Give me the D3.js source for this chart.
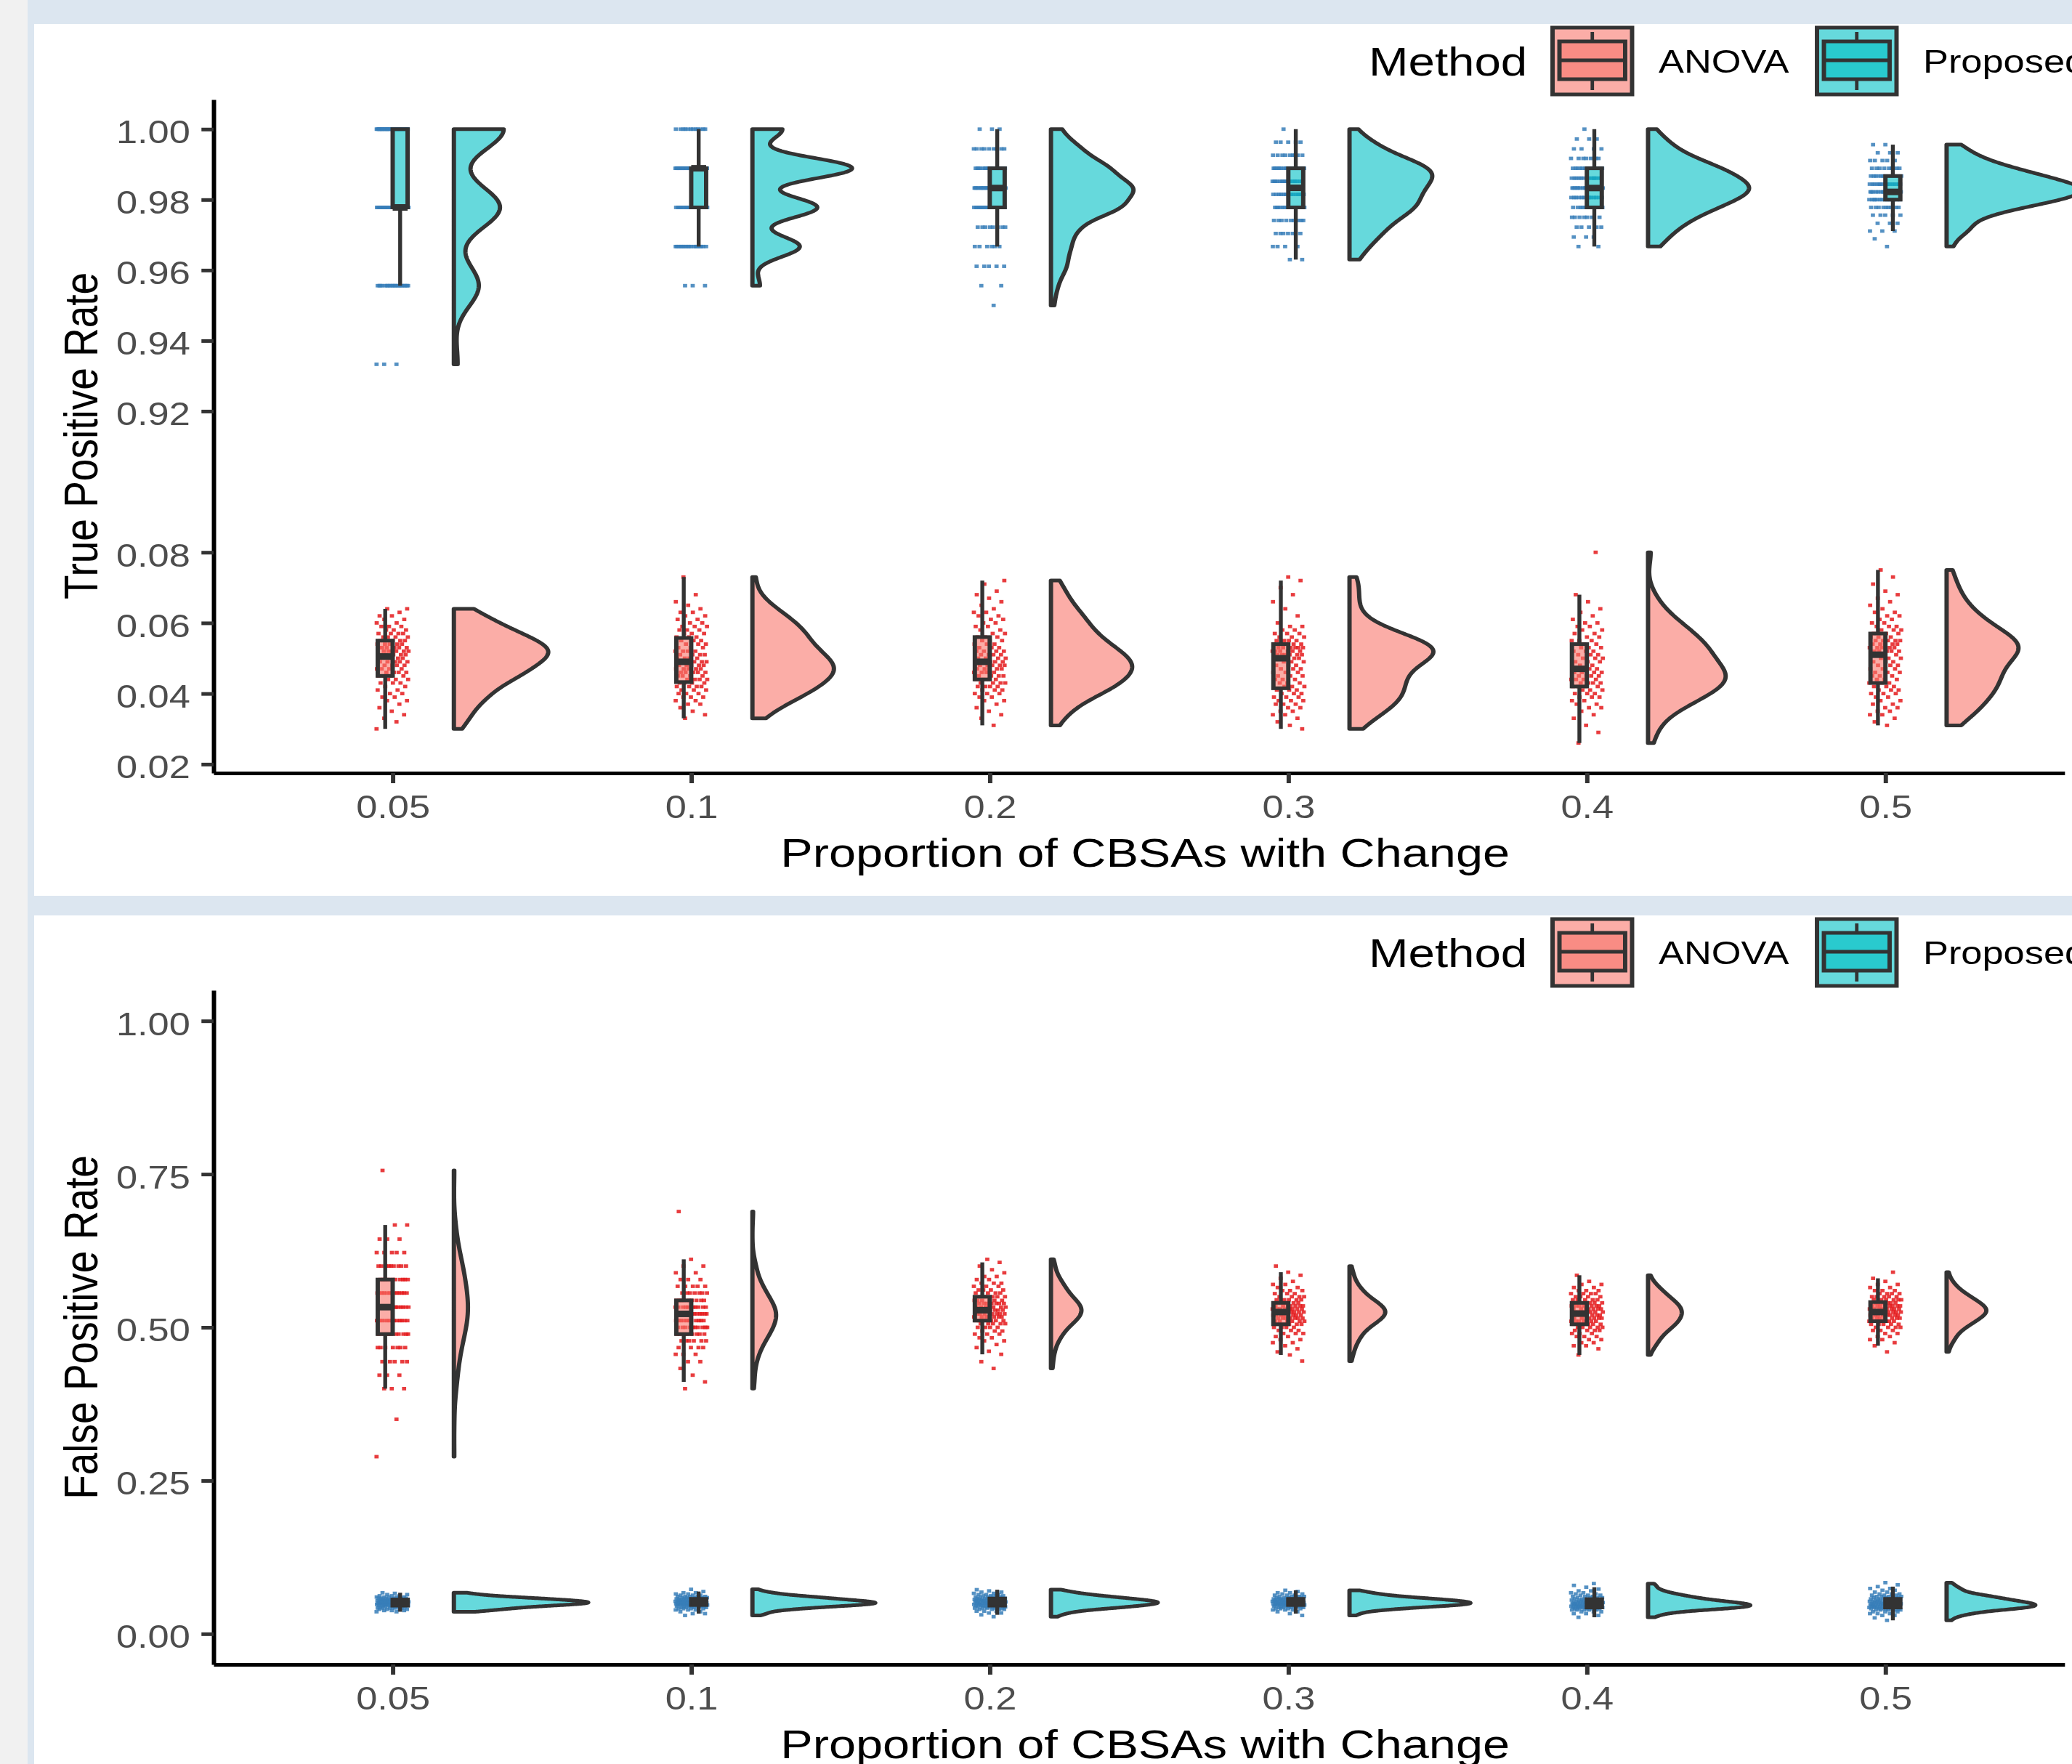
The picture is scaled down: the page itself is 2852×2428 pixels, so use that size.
<!DOCTYPE html>
<html>
<head>
<meta charset="utf-8">
<script src="https://cdn.jsdelivr.net/npm/d3@7"></script>
<style>
  body { margin: 0; background: #fff; }
  svg text { font-family: "Liberation Sans", Arial, sans-serif; }
</style>
</head>
<body>
<svg id="chart"></svg>
<script>
// the screenshot is stretched sideways, so everything is drawn in a narrower
// logical frame and the viewBox widens it again
const W = 2852, H = 2428, SX = 1.19;
const LW = W / SX;

const proportions = ["0.05", "0.1", "0.2", "0.3", "0.4", "0.5"];
const methods = ["ANOVA", "Proposed"];
const tprTicks = [0.02, 0.04, 0.06, 0.08, 0.92, 0.94, 0.96, 0.98, 1.00];
const fprTicks = [0, 0.25, 0.5, 0.75, 1];

// [rate, number of runs] for each proportion
const tprAnova = [
  [[0.030,1],[0.032,1],[0.033,1],[0.034,1],[0.035,1],[0.036,1],[0.037,1],[0.038,2],[0.039,2],[0.040,2],[0.041,2],[0.042,2],[0.043,3],[0.044,3],[0.045,4],[0.046,4],[0.047,4],[0.048,4],[0.049,5],[0.050,5],[0.051,5],[0.052,6],[0.053,6],[0.054,5],[0.055,4],[0.056,4],[0.057,4],[0.058,3],[0.059,3],[0.060,2],[0.061,2],[0.062,2],[0.063,1],[0.064,2]],
  [[0.033,1],[0.034,1],[0.035,1],[0.036,1],[0.037,2],[0.038,2],[0.039,3],[0.040,3],[0.041,3],[0.042,4],[0.043,4],[0.044,4],[0.045,4],[0.046,5],[0.047,5],[0.048,5],[0.049,4],[0.050,4],[0.051,4],[0.052,4],[0.053,3],[0.054,3],[0.055,3],[0.056,3],[0.057,3],[0.058,3],[0.059,3],[0.060,2],[0.061,2],[0.062,2],[0.063,2],[0.064,1],[0.065,1],[0.066,1],[0.068,1],[0.073,1]],
  [[0.031,1],[0.033,1],[0.034,1],[0.035,1],[0.036,1],[0.037,1],[0.038,2],[0.039,2],[0.040,3],[0.041,3],[0.042,4],[0.043,4],[0.044,4],[0.045,4],[0.046,4],[0.047,5],[0.048,5],[0.049,5],[0.050,4],[0.051,4],[0.052,4],[0.053,3],[0.054,3],[0.055,3],[0.056,3],[0.057,2],[0.058,2],[0.059,2],[0.060,2],[0.061,2],[0.062,2],[0.063,2],[0.064,1],[0.065,1],[0.066,1],[0.067,1],[0.068,1],[0.069,1],[0.071,1],[0.072,1]],
  [[0.030,1],[0.031,1],[0.032,1],[0.033,1],[0.034,2],[0.035,2],[0.036,2],[0.037,3],[0.038,3],[0.039,3],[0.040,3],[0.041,3],[0.042,3],[0.043,3],[0.044,3],[0.045,3],[0.046,3],[0.047,3],[0.048,3],[0.049,3],[0.050,5],[0.051,6],[0.052,6],[0.053,6],[0.054,5],[0.055,4],[0.056,3],[0.057,3],[0.058,2],[0.059,2],[0.060,1],[0.062,1],[0.064,1],[0.066,1],[0.068,1],[0.070,1],[0.072,1],[0.073,1]],
  [[0.026,1],[0.029,1],[0.031,1],[0.033,1],[0.034,1],[0.035,1],[0.036,2],[0.037,2],[0.038,2],[0.039,3],[0.040,3],[0.041,3],[0.042,4],[0.043,4],[0.044,4],[0.045,4],[0.046,4],[0.047,4],[0.048,3],[0.049,3],[0.050,3],[0.051,3],[0.052,3],[0.053,3],[0.054,3],[0.055,3],[0.056,2],[0.057,2],[0.058,2],[0.059,2],[0.060,2],[0.061,1],[0.062,1],[0.063,1],[0.064,1],[0.066,1],[0.068,1],[0.080,1]],
  [[0.031,1],[0.032,1],[0.033,1],[0.034,2],[0.035,2],[0.036,2],[0.037,2],[0.038,2],[0.039,2],[0.040,3],[0.041,3],[0.042,3],[0.043,3],[0.044,3],[0.045,3],[0.046,3],[0.047,3],[0.048,3],[0.049,3],[0.050,3],[0.051,4],[0.052,5],[0.053,5],[0.054,5],[0.055,5],[0.056,3],[0.057,3],[0.058,3],[0.059,3],[0.060,2],[0.061,2],[0.062,2],[0.063,2],[0.064,1],[0.065,1],[0.066,1],[0.067,1],[0.068,1],[0.069,1],[0.071,1],[0.073,1],[0.075,1]]
];
const tprProposed = [
  [[0.9333,3],[0.9556,20],[0.9778,37],[1.0,40]],
  [[0.9556,3],[0.9667,19],[0.9778,26],[0.9889,40],[1.0,12]],
  [[0.9500,1],[0.9556,2],[0.9611,5],[0.9667,6],[0.9722,8],[0.9778,22],[0.9833,26],[0.9889,18],[0.9944,9],[1.0,3]],
  [[0.9630,2],[0.9667,4],[0.9704,7],[0.9741,9],[0.9778,15],[0.9815,14],[0.9852,17],[0.9889,19],[0.9926,9],[0.9963,5],[1.0,1]],
  [[0.9667,2],[0.9694,3],[0.9722,5],[0.9750,7],[0.9778,11],[0.9806,14],[0.9833,17],[0.9861,14],[0.9889,12],[0.9917,7],[0.9944,4],[0.9972,3],[1.0,1]],
  [[0.9667,1],[0.9689,1],[0.9711,3],[0.9733,3],[0.9756,5],[0.9778,9],[0.9800,14],[0.9822,17],[0.9844,16],[0.9867,12],[0.9889,8],[0.9911,5],[0.9933,3],[0.9956,2]]
];
const fprAnova = [
  [[0.289,1],[0.350,1],[0.400,3],[0.422,3],[0.444,5],[0.467,7],[0.489,10],[0.511,13],[0.533,14],[0.556,13],[0.578,10],[0.600,9],[0.622,5],[0.644,3],[0.667,2],[0.756,1]],
  [[0.400,1],[0.411,1],[0.422,1],[0.433,1],[0.444,2],[0.456,3],[0.467,4],[0.478,6],[0.489,8],[0.500,10],[0.511,11],[0.522,12],[0.533,11],[0.544,9],[0.556,7],[0.567,5],[0.578,3],[0.589,2],[0.600,2],[0.611,1],[0.689,1]],
  [[0.433,1],[0.444,1],[0.456,1],[0.461,1],[0.467,1],[0.472,1],[0.478,2],[0.483,2],[0.489,3],[0.494,3],[0.500,4],[0.506,5],[0.511,6],[0.517,7],[0.522,7],[0.528,8],[0.533,7],[0.539,7],[0.544,6],[0.550,5],[0.556,4],[0.561,4],[0.567,3],[0.572,3],[0.578,2],[0.583,2],[0.589,1],[0.594,1],[0.600,1],[0.606,1],[0.611,1]],
  [[0.445,1],[0.455,1],[0.460,1],[0.465,1],[0.470,1],[0.475,2],[0.480,2],[0.485,2],[0.490,3],[0.495,3],[0.500,4],[0.505,5],[0.510,6],[0.515,7],[0.520,8],[0.525,8],[0.530,8],[0.535,7],[0.540,6],[0.545,5],[0.550,4],[0.555,3],[0.560,3],[0.565,2],[0.570,2],[0.575,1],[0.580,1],[0.585,1],[0.590,1],[0.600,1]],
  [[0.455,1],[0.465,1],[0.470,2],[0.475,2],[0.480,2],[0.485,3],[0.490,3],[0.495,4],[0.500,5],[0.505,6],[0.510,6],[0.515,7],[0.520,7],[0.525,7],[0.530,7],[0.535,7],[0.540,6],[0.545,5],[0.550,4],[0.555,4],[0.560,3],[0.565,2],[0.570,2],[0.575,1],[0.585,1]],
  [[0.460,1],[0.470,1],[0.475,1],[0.480,2],[0.485,2],[0.490,2],[0.495,3],[0.500,4],[0.505,5],[0.510,6],[0.515,7],[0.520,8],[0.525,9],[0.530,9],[0.535,8],[0.540,7],[0.545,6],[0.550,5],[0.555,4],[0.560,3],[0.565,2],[0.570,2],[0.575,1],[0.580,1],[0.590,1]]
];
const fprProposed = [
  [[0.036,2],[0.038,3],[0.040,4],[0.042,5],[0.044,6],[0.046,8],[0.048,10],[0.050,12],[0.052,12],[0.054,10],[0.056,9],[0.058,7],[0.060,5],[0.062,3],[0.064,2],[0.066,1],[0.067,1]],
  [[0.030,1],[0.033,2],[0.036,2],[0.039,3],[0.041,4],[0.043,5],[0.045,7],[0.047,9],[0.049,11],[0.051,11],[0.053,10],[0.055,8],[0.057,7],[0.059,6],[0.061,5],[0.063,3],[0.065,2],[0.067,2],[0.069,1],[0.0726,1]],
  [[0.028,1],[0.031,1],[0.034,2],[0.037,3],[0.040,4],[0.042,5],[0.044,6],[0.046,7],[0.048,8],[0.050,9],[0.052,9],[0.054,8],[0.056,7],[0.058,6],[0.060,5],[0.062,4],[0.064,3],[0.066,2],[0.068,2],[0.070,1],[0.072,1]],
  [[0.030,1],[0.033,1],[0.036,2],[0.039,3],[0.041,4],[0.043,5],[0.045,7],[0.047,9],[0.049,10],[0.051,10],[0.053,9],[0.055,8],[0.057,7],[0.059,5],[0.061,4],[0.063,3],[0.065,2],[0.067,2],[0.069,1],[0.071,1]],
  [[0.027,1],[0.030,1],[0.033,2],[0.036,3],[0.039,5],[0.041,6],[0.043,8],[0.045,9],[0.047,9],[0.049,8],[0.051,7],[0.053,6],[0.055,5],[0.057,4],[0.059,4],[0.061,3],[0.063,3],[0.065,2],[0.067,2],[0.070,2],[0.073,1],[0.076,1],[0.079,1],[0.082,1]],
  [[0.022,1],[0.026,1],[0.030,2],[0.033,3],[0.036,4],[0.039,5],[0.041,6],[0.043,7],[0.045,8],[0.047,8],[0.049,7],[0.051,7],[0.053,6],[0.055,5],[0.057,5],[0.059,4],[0.061,4],[0.063,3],[0.065,3],[0.068,2],[0.071,2],[0.074,2],[0.077,1],[0.080,1],[0.0835,1]]
];

const fills = { ANOVA: "#F8766D", Proposed: "#00BFC4" };
const dots = { ANOVA: "#E41A1C", Proposed: "#377EB8" };
const ink = "#333333";

const svg = d3.select("#chart")
  .attr("width", W).attr("height", H)
  .attr("viewBox", `0 0 ${LW} ${H}`)
  .attr("preserveAspectRatio", "none");

// page background around the two plot panels
svg.append("rect").attr("width", LW).attr("height", H).attr("fill", "#dce6f0");
svg.append("rect").attr("width", 38 / SX).attr("height", H).attr("fill", "#f1f1f1");
[[33, 1233], [1260, H]].forEach(([a, b]) => {
  svg.append("rect").attr("x", 47 / SX).attr("y", a)
    .attr("width", LW - 47 / SX).attr("height", b - a).attr("fill", "#fff");
});

const x = d3.scalePoint().domain(proportions).range([247, 2388]).padding(0.6);
const step = x.step();

const gauss = u => Math.exp(-0.5 * u * u) / Math.sqrt(2 * Math.PI);

// box stats + gaussian kernel density (bw.nrd0, trimmed to the data range)
function summarise(pairs) {
  const v = pairs.flatMap(([val, n]) => d3.range(n).map(() => val)).sort(d3.ascending);
  const q1 = d3.quantile(v, 0.25), med = d3.quantile(v, 0.5), q3 = d3.quantile(v, 0.75);
  const iqr = q3 - q1;
  const lo = d3.min(v.filter(d => d >= q1 - 1.5 * iqr));
  const hi = d3.max(v.filter(d => d <= q3 + 1.5 * iqr));
  const sd = d3.deviation(v);
  const spread = iqr > 0 ? Math.min(sd, iqr / 1.34) : sd;
  const bw = 0.9 * spread * Math.pow(v.length, -0.2);
  const min = v[0], max = v[v.length - 1];
  const dens = d3.range(257).map(i => {
    const yv = min + (max - min) * i / 256;
    return [yv, d3.sum(v, d => gauss((yv - d) / bw)) / (v.length * bw)];
  });
  return { v, q1, med, q3, lo, hi, dens };
}

function drawPanel(top, y, ticks, yTitle, data) {
  const g = svg.append("g").attr("transform", `translate(0,${top})`);
  const st = {};
  methods.forEach(m => st[m] = data[m].map(summarise));
  const maxD = d3.max(methods, m => d3.max(st[m], s => d3.max(s.dens, d => d[1])));
  const half = 0.45 * step;
  const nudge = 0.205 * step;

  // flat violins
  methods.forEach(m => {
    g.append("g").selectAll("path")
      .data(st[m])
      .join("path")
      .attr("d", (s, i) => {
        const x0 = x(proportions[i]) + nudge;
        return d3.area()
          .y(d => y(d[0]))
          .x0(x0)
          .x1(d => x0 + d[1] / maxD * half)(s.dens);
      })
      .attr("fill", fills[m])
      .attr("fill-opacity", 0.6)
      .attr("stroke", ink)
      .attr("stroke-width", 5)
      .attr("stroke-linejoin", "round");
  });

  // jittered runs
  const jit = 0.054 * step;
  methods.forEach(m => {
    st[m].forEach((s, i) => {
      const cx = x(proportions[i]);
      g.append("g").selectAll("rect")
        .data(s.v)
        .join("rect")
        .attr("x", (d, j) => cx + ((j * 0.618034 + i * 0.31) % 1 - 0.5) * 2 * jit - 2.4)
        .attr("y", d => y(d) - 2.4)
        .attr("width", 4.8)
        .attr("height", 4.8)
        .attr("fill", dots[m])
        .attr("opacity", 0.85);
    });
  });

  // dodged boxplots
  const bw = 0.05 * step;
  methods.forEach((m, k) => {
    const off = (k === 0 ? -1 : 1) * 0.025 * step;
    st[m].forEach((s, i) => {
      const cx = x(proportions[i]) + off;
      const b = g.append("g");
      b.append("line").attr("x1", cx).attr("x2", cx).attr("y1", y(s.hi)).attr("y2", y(s.q3))
        .attr("stroke", ink).attr("stroke-width", 4.5);
      b.append("line").attr("x1", cx).attr("x2", cx).attr("y1", y(s.q1)).attr("y2", y(s.lo))
        .attr("stroke", ink).attr("stroke-width", 4.5);
      b.append("rect")
        .attr("x", cx - bw / 2).attr("width", bw)
        .attr("y", y(s.q3)).attr("height", Math.max(0, y(s.q1) - y(s.q3)))
        .attr("fill", fills[m]).attr("fill-opacity", 0.6)
        .attr("stroke", ink).attr("stroke-width", 5);
      b.append("line").attr("x1", cx - bw / 2).attr("x2", cx + bw / 2)
        .attr("y1", y(s.med)).attr("y2", y(s.med))
        .attr("stroke", ink).attr("stroke-width", 9);
    });
  });

  // axes
  const yAxis = g.append("g").attr("transform", "translate(247,0)")
    .call(d3.axisLeft(y).tickValues(ticks).tickFormat(d3.format(".2f"))
      .tickSize(14).tickPadding(13).tickSizeOuter(0));
  const xAxis = g.append("g").attr("transform", "translate(0,1064)")
    .call(d3.axisBottom(x).tickSize(14).tickPadding(17).tickSizeOuter(0));
  [yAxis, xAxis].forEach(a => {
    a.select(".domain").attr("stroke", "#000").attr("stroke-width", 5);
    a.selectAll(".tick line").attr("stroke", ink).attr("stroke-width", 5);
    a.selectAll(".tick text").attr("fill", "#4d4d4d").attr("font-size", 44)
      .attr("font-family", "Liberation Sans, Arial, sans-serif");
  });
  yAxis.selectAll(".tick text").attr("dy", "0.43em");

  g.append("text")
    .attr("x", (247 + 2388) / 2 + 7).attr("y", 1193)
    .attr("text-anchor", "middle").attr("font-size", 56)
    .text("Proportion of CBSAs with Change");
  g.append("text")
    .attr("transform", `translate(113,600) rotate(-90)`)
    .attr("text-anchor", "middle").attr("font-size", 55)
    .text(yTitle);

  // legend
  const lg = g.append("g");
  lg.append("text").attr("x", 1884 / SX).attr("y", 104).attr("font-size", 55).text("Method");
  const keyX = [2137 / SX, 2501 / SX];
  const labX = [2283 / SX, 2647 / SX];
  methods.forEach((m, k) => {
    const key = lg.append("g").attr("transform", `translate(${keyX[k]},38)`);
    key.append("rect").attr("width", 92).attr("height", 92)
      .attr("fill", fills[m]).attr("fill-opacity", 0.6)
      .attr("stroke", ink).attr("stroke-width", 5);
    key.append("line").attr("x1", 46).attr("x2", 46).attr("y1", 6).attr("y2", 19)
      .attr("stroke", ink).attr("stroke-width", 4);
    key.append("line").attr("x1", 46).attr("x2", 46).attr("y1", 71).attr("y2", 86)
      .attr("stroke", ink).attr("stroke-width", 4);
    key.append("rect").attr("x", 8).attr("y", 19).attr("width", 76).attr("height", 52)
      .attr("fill", fills[m]).attr("fill-opacity", 0.6)
      .attr("stroke", ink).attr("stroke-width", 5);
    key.append("line").attr("x1", 8).attr("x2", 84).attr("y1", 45).attr("y2", 45)
      .attr("stroke", ink).attr("stroke-width", 5);
    lg.append("text").attr("x", labX[k]).attr("y", 100).attr("font-size", 44).text(m);
  });
}

const yTpr = d3.scaleLinear().domain([0.0175, 0.1, 0.9, 1.0084]).range([1064, 663, 663, 137]);
const yFpr = d3.scaleLinear().domain([-0.05, 1.05]).range([1064, 136]);

drawPanel(0, yTpr, tprTicks, "True Positive Rate", { ANOVA: tprAnova, Proposed: tprProposed });
drawPanel(1227, yFpr, fprTicks, "False Positive Rate", { ANOVA: fprAnova, Proposed: fprProposed });
</script>
</body>
</html>
